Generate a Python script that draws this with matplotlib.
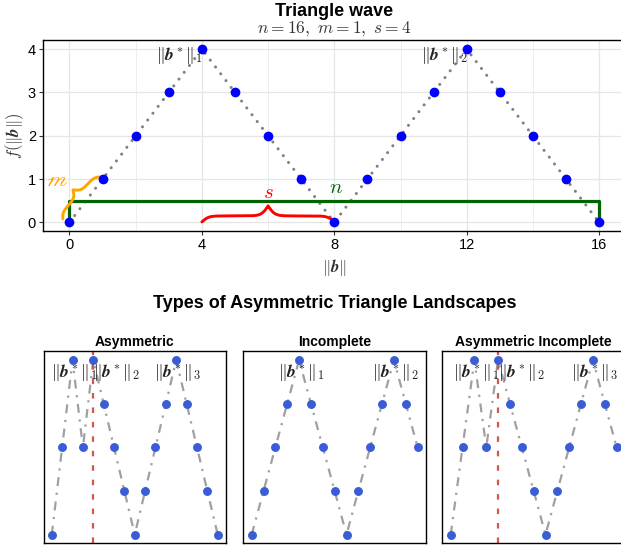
import matplotlib
matplotlib.use("Agg")
import matplotlib.pyplot as plt
import numpy as np

plt.rcParams["font.family"] = ["Liberation Sans", "DejaVu Sans"]
plt.rcParams["mathtext.fontset"] = "cm"

# Triangle wave parameters and values
n_len, m_step, s_half = 16, 1, 4
wave_x = list(range(17))
wave_y = [0, 1, 2, 3, 4, 3, 2, 1, 0, 1, 2, 3, 4, 3, 2, 1, 0]
wave_peaks = [4, 12]

# Asymmetric landscapes (bottom row)
panel_titles = ["Asymmetric", "Incomplete", "Asymmetric Incomplete"]
asym_y = [0, 2, 4, 2, 4, 3, 2, 1, 0, 1, 2, 3, 4, 3, 2, 1, 0]
incomp_y = [0, 1, 2, 3, 4, 3, 2, 1, 0, 1, 2, 3, 4, 3, 2]
asym_incomp_y = [0, 2, 4, 2, 4, 3, 2, 1, 0, 1, 2, 3, 4, 3, 2]
panel_values = [asym_y, incomp_y, asym_incomp_y]
panel_peaks = [[2, 4, 12], [4, 12], [2, 4, 12]]
panel_split = [4, None, 4]

BLUE = "#0000ff"
ROYAL = "#3a5dd4"
W, H = 621, 550

fig = plt.figure(figsize=(W / 100, H / 100), dpi=100)


def brace(ax, p0, p1, plateau, tip, beta=0.5, **kw):
    # curly brace drawn in pixel space, bulging to the left of p0 -> p1
    a = ax.transData.transform(p0)
    b = ax.transData.transform(p1)
    d = b - a
    L = np.hypot(*d)
    u = d / L
    nrm = np.array([-u[1], u[0]])
    h = L / 2
    t = np.linspace(0, h, 200)
    sig = lambda z: 1 / (1 + np.exp(-z))
    v = plateau * (2 * sig(beta * t) - 1) + (tip - plateau) * 2 * sig(beta * (t - h))
    tt = np.concatenate([t, L - t[::-1]])
    vv = np.concatenate([v, v[::-1]])
    pts = a + np.outer(tt, u) + np.outer(vv, nrm)
    xy = ax.transData.inverted().transform(pts)
    ax.plot(xy[:, 0], xy[:, 1], solid_capstyle="round", **kw)


# ---- top: triangle wave ----
ax = fig.add_axes([43 / W, 1 - 231 / H, 582.6 / W, 190.5 / H])
ax.set_xlim(-0.8, 16.8)
ax.set_ylim(-0.2, 4.2)
ax.set_xticks([0, 4, 8, 12, 16])
ax.set_xticks([2, 6, 10, 14], minor=True)
ax.set_yticks([0, 1, 2, 3, 4])
ax.grid(True, which="major", color="#e6e6e6", lw=0.9)
ax.grid(True, which="minor", axis="x", color="#eeeeee", lw=0.7)
ax.set_axisbelow(True)
ax.tick_params(which="major", labelsize=10.5, length=3, width=0.8, color="#333333", pad=2)
ax.tick_params(which="minor", length=0)
for sp in ax.spines.values():
    sp.set_linewidth(1.0)

ax.plot(wave_x, wave_y, color="gray", lw=2.2, linestyle=(0, (0.01, 2.8)),
        dash_capstyle="round", zorder=2)

# n bracket
ax.plot([0, 0, n_len, n_len], [0, 0.5, 0.5, 0], color="#006400", lw=2.3, zorder=3)
ax.text(8.05, 0.8, r"$n$", color="#006400", fontsize=15, ha="center", va="center")

# s brace
brace(ax, (s_half, 0.01), (2 * s_half, 0.01), 6, 16, beta=0.3, color="red", lw=2.1, zorder=3)
ax.text(6.0, 0.7, r"$s$", color="red", fontsize=15, ha="center", va="center")

# m brace
brace(ax, (-0.2, 0.08), (0.95, 1.05), 5, 12, beta=0.4, color="orange", lw=2.1, zorder=3)
ax.text(-0.36, 0.97, r"$\mathscr{m}$", color="orange", fontsize=15, ha="center",
        va="center", math_fontfamily="stix")

ax.plot(wave_x, wave_y, "o", color=BLUE, ms=6, zorder=4)

for i, px in enumerate(wave_peaks):
    ax.text(px + 0.02, 3.86, r"$\|\boldsymbol{b}^*\|_{%d}$" % (i + 1), fontsize=12.5,
            ha="right", va="center", color="#222222", zorder=3)

ax.set_xlabel(r"$\|\boldsymbol{b}\|$", fontsize=12, labelpad=4, color="#333333")
ax.set_ylabel(r"$f(\|\boldsymbol{b}\|)$", fontsize=12, color="#333333")
ax.yaxis.set_label_coords(-0.03, 0.5)

cx = (43 + 625.6) / 2 / W
fig.text(cx, 1 - 11 / H, "Triangle wave", ha="center", va="center",
         fontsize=13, fontweight="bold")
fig.text(cx, 1 - 29 / H, r"$n = 16,\ m = 1,\ s = 4$", ha="center", va="center",
         fontsize=12.5, color="#333333")

# ---- bottom: types of asymmetric landscapes ----
fig.text(cx, 1 - 303 / H, "Types of Asymmetric Triangle Landscapes", ha="center",
         va="center", fontsize=13, fontweight="bold")

lefts = [43.5, 243.4, 442.4]
for left, title, vals, peaks, split in zip(lefts, panel_titles, panel_values,
                                           panel_peaks, panel_split):
    bx = fig.add_axes([left / W, 1 - 543.3 / H, 182.5 / W, 192 / H])
    xs = np.arange(len(vals))
    bx.plot(xs, vals, color="#a0a0a0", lw=1.6, linestyle=(0, (4, 3, 1, 3)), zorder=1)
    bx.plot(xs, vals, "o", color=ROYAL, ms=5.4, zorder=4)
    if split is not None:
        bx.axvline(split, color="#d1584a", lw=1.6, linestyle=(0, (2.5, 4)), zorder=2)
    for i, px in enumerate(peaks):
        crowded = i > 0 and px - peaks[i - 1] < 4
        bx.text(px - 0.05 if crowded else px + 0.15, 3.72,
                r"$\|\boldsymbol{b}^*\|_{%d}$" % (i + 1), fontsize=12.5,
                ha="left" if crowded else "center", va="center", color="#222222", zorder=3)
    bx.set_xlim(-0.05 * (len(vals) - 1), 1.05 * (len(vals) - 1))
    bx.set_ylim(-0.2, 4.2)
    bx.set_xticks([])
    bx.set_yticks([])
    for sp in bx.spines.values():
        sp.set_linewidth(1.0)
    bx.set_title(title, fontsize=10, fontweight="bold", pad=4)

fig.savefig("out.png", dpi=100)
